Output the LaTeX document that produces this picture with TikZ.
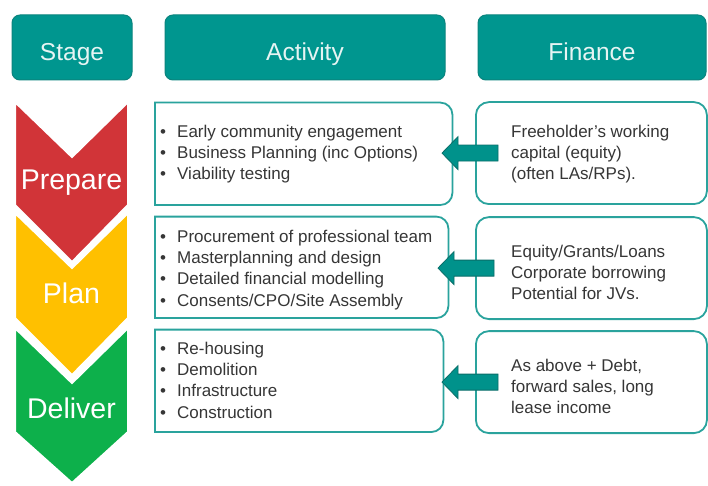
\documentclass[tikz,border=0pt]{standalone}
\usepackage{fontspec}
\setmainfont{Liberation Sans}
\usetikzlibrary{calc}
\definecolor{hdrteal}{HTML}{00968F}
\definecolor{hdredge}{HTML}{0B847E}
\definecolor{boxteal}{HTML}{2AA39D}
\definecolor{arrfill}{HTML}{00928B}
\definecolor{arredge}{HTML}{0A6E69}
\definecolor{txtgray}{HTML}{363636}
\definecolor{hdrtext}{HTML}{E6F4F3}
\definecolor{stred}{HTML}{D13438}
\definecolor{styellow}{HTML}{FFC000}
\definecolor{stgreen}{HTML}{0DB04B}
\tikzset{
  hdr/.style={draw=hdredge, line width=1pt, fill=hdrteal, rounded corners=8pt,
    text=hdrtext, font=\fontsize{24.5}{28}\selectfont, inner sep=0pt,
    minimum height=65pt, text height=26.4pt, text depth=0pt},
  frame/.style={draw=none, inner sep=0pt, anchor=south west},
  actline/.style={draw=boxteal, line width=1.8pt},
  finbox/.style={draw=boxteal, line width=1.8pt, rounded corners=13pt, inner sep=0pt, anchor=south west},
  bodytxt/.style={text=txtgray, inner sep=0pt, anchor=base west},
  stagetxt/.style={text=white, font=\fontsize{28.5}{33}\selectfont, inner sep=0pt, anchor=base},
  chev/.style={draw=white, line width=2pt, line join=miter},
  farrow/.style={fill=arrfill, draw=arredge, line width=0.8pt, line join=miter}
}
\newcommand{\bodyfont}{\fontsize{17}{21.2}\selectfont}
\newcommand{\bul}{\makebox[17pt][l]{•}}
\begin{document}
\begin{tikzpicture}[x=1pt,y=1pt]
\useasboundingbox (0,0) rectangle (708,485);
\fill[white] (0,0) rectangle (708,485);

% headers
\node[hdr, minimum width=120pt] (hs) at (72,437.5) {Stage};
\node[hdr, minimum width=280pt] (ha) at (305,437.5) {Activity};
\node[hdr, minimum width=228pt] (hf) at (592,437.5) {Finance};

% stage chevrons
\path[chev, fill=stred] (15,383) -- (72,328) -- (128,383) -- (128,280) -- (72,223) -- (15,280) -- cycle;
\path[chev, fill=styellow] (15,272) -- (72,217) -- (128,272) -- (128,167) -- (72,110) -- (15,167) -- cycle;
\path[chev, fill=stgreen] (15,157) -- (72,102) -- (128,157) -- (128,53) -- (72,2) -- (15,53) -- cycle;
\node[stagetxt] (sp) at (71.5,295) {Prepare};
\node[stagetxt] (sl) at (71.5,182) {Plan};
\node[stagetxt] (sd) at (71.5,67) {Deliver};

% activity boxes (square left corners, rounded right corners)
\node[frame, minimum width=297pt, minimum height=102pt] (a1) at (155,280) {};
\node[frame, minimum width=293pt, minimum height=101pt] (a2) at (155,167) {};
\node[frame, minimum width=288pt, minimum height=102pt] (a3) at (155,53) {};
\foreach \b in {a1,a2,a3}{
  \draw[actline] (\b.south west) -- (\b.north west) -- ([xshift=-12pt]\b.north east)
    arc[start angle=90, end angle=0, radius=12pt] -- ([yshift=12pt]\b.south east)
    arc[start angle=0, end angle=-90, radius=12pt] -- cycle;
}

% finance boxes
\node[finbox, minimum width=231pt, minimum height=102pt] (f1) at (475,280) {};
\node[finbox, minimum width=231pt, minimum height=102pt] (f2) at (475,165) {};
\node[finbox, minimum width=231pt, minimum height=102pt] (f3) at (475,51) {};

% texts
\node[bodytxt] (ta1) at (160,347.5) {\parbox[t]{290pt}{\bodyfont\raggedright
  \bul Early community engagement\\
  \bul Business Planning (inc Options)\\
  \bul Viability testing}};
\node[bodytxt] (ta2) at (160,242.5) {\parbox[t]{290pt}{\bodyfont\raggedright
  \bul Procurement of professional team\\
  \bul Masterplanning and design\\
  \bul Detailed financial modelling\\
  \bul Consents/CPO/Site Assembly}};
\node[bodytxt] (ta3) at (160,130.5) {\parbox[t]{290pt}{\bodyfont\raggedright
  \bul Re-housing\\
  \bul Demolition\\
  \bul Infrastructure\\
  \bul Construction}};
\node[bodytxt] (tf1) at (511,347.5) {\parbox[t]{190pt}{\bodyfont\raggedright
  Freeholder’s working\\ capital (equity)\\ (often LAs/RPs).}};
\node[bodytxt] (tf2) at (511,227.5) {\parbox[t]{190pt}{\bodyfont\raggedright
  Equity/Grants/Loans\\ Corporate borrowing\\ Potential for JVs.}};
\node[bodytxt] (tf3) at (511,113.5) {\parbox[t]{190pt}{\bodyfont\raggedright
  As above + Debt,\\ forward sales, long\\ lease income}};

% arrows from finance to activity
\coordinate (tip1) at ($(f1.west)+(-33,0)$);
\coordinate (tip2) at ($(f2.west)+(-37,0)$);
\coordinate (tip3) at ($(f3.west)+(-33,0)$);
\foreach \t in {tip1,tip2,tip3}{
  \filldraw[farrow] (\t) -- ++(16,16.5) -- ++(0,-8.5) -- ++(40,0) -- ++(0,-16)
    -- ++(-40,0) -- ++(0,-8.5) -- cycle;
}
\end{tikzpicture}
\end{document}
